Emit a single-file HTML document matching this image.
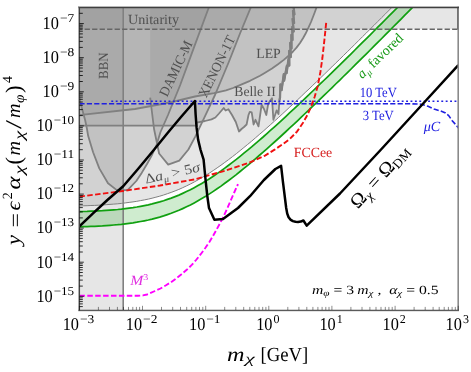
<!DOCTYPE html><html><head><meta charset="utf-8"><style>html,body{margin:0;padding:0;background:#fff}svg{display:block;will-change:transform;text-rendering:geometricPrecision}</style></head><body><svg width="471" height="372" viewBox="0 0 471 372"><rect width="471" height="372" fill="#fff"/><defs><clipPath id="c"><rect x="79.4" y="7.0" width="378.9" height="303.0"/></clipPath></defs><g clip-path="url(#c)"><path d="M79.4,206.0 L83.2,205.8 L87.1,205.7 L90.9,205.5 L94.7,205.4 L98.5,205.2 L102.4,205.0 L106.2,204.7 L110.0,204.4 L113.8,204.1 L117.7,203.8 L121.5,203.4 L125.3,202.9 L129.1,202.4 L133.0,201.9 L136.8,201.3 L140.6,200.6 L144.4,199.9 L148.3,199.1 L152.1,198.2 L155.9,197.2 L159.7,196.2 L163.6,195.0 L167.4,193.7 L171.2,192.4 L175.1,190.9 L178.9,189.4 L182.7,187.7 L186.5,185.9 L190.4,184.0 L194.2,182.0 L198.0,179.9 L201.8,177.7 L205.7,175.4 L209.5,173.0 L213.3,170.5 L217.1,167.9 L221.0,165.2 L224.8,162.4 L228.6,159.6 L232.4,156.7 L236.3,153.7 L240.1,150.6 L243.9,147.5 L247.7,144.4 L251.6,141.2 L255.4,137.9 L259.2,134.6 L263.1,131.3 L266.9,127.9 L270.7,124.5 L274.5,121.1 L278.4,117.6 L282.2,114.1 L286.0,110.6 L289.8,107.0 L293.7,103.5 L297.5,99.9 L301.3,96.3 L305.1,92.6 L309.0,89.0 L312.8,85.3 L316.6,81.7 L320.4,78.0 L324.3,74.3 L328.1,70.6 L331.9,66.9 L335.7,63.1 L339.6,59.4 L343.4,55.6 L347.2,51.9 L351.1,48.1 L354.9,44.3 L358.7,40.5 L362.5,36.7 L366.4,32.9 L370.2,29.1 L374.0,25.3 L377.8,21.5 L381.7,17.6 L385.5,13.8 L389.3,10.0 L393.1,6.1 L397.0,2.3 L400.8,-1.6 L404.6,-5.5 L408.4,-9.3 L412.3,-13.2 L412.3,-23.0 L79.4,-23.0Z" fill="#808080" fill-opacity="0.2"/><rect x="79.4" y="7.0" width="378.9" height="22.2" fill="#808080" fill-opacity="0.2"/><rect x="79.4" y="7.0" width="43.8" height="303.0" fill="#808080" fill-opacity="0.2"/><path d="M79.0,115.2 L135.0,109.0 L170.0,102.5 L195.0,96.5 L214.0,93.2 L226.0,90.3 L233.0,88.0 L241.7,84.4 L250.0,80.8 L260.0,75.7 L265.1,72.7 L272.0,68.6 L278.0,64.3 L283.8,59.9 L289.5,55.0 L293.0,51.5 L296.5,47.6 L300.0,43.0 L303.0,38.3 L305.5,33.8 L308.0,28.6 L311.0,22.0 L314.5,13.0 L316.7,7.0 L318.0,-3.0 L318.0,-23.0 L79.0,-23.0Z" fill="#808080" fill-opacity="0.2"/><path d="M79.0,125.7 L196.5,125.7 L196.5,122.6 L205.0,121.0 L211.5,119.4 L215.4,117.5 L219.0,113.5 L223.7,108.0 L225.6,110.5 L228.4,109.2 L232.0,115.0 L235.8,122.0 L237.5,127.0 L239.0,131.5 L241.5,129.0 L244.0,127.0 L246.6,124.5 L248.5,115.0 L249.8,111.8 L251.7,112.4 L253.6,124.5 L255.5,119.8 L258.5,126.4 L260.0,116.0 L261.6,104.8 L264.0,109.0 L266.3,115.0 L268.2,103.8 L270.0,101.0 L272.0,98.2 L273.4,119.8 L276.7,110.4 L278.5,114.0 L279.5,100.0 L280.0,97.7 L280.4,84.5 L281.6,90.1 L283.8,74.1 L284.1,80.7 L286.9,65.6 L286.6,73.2 L288.5,59.0 L289.3,65.5 L289.2,51.0 L290.8,57.0 L290.2,43.0 L291.5,48.5 L291.4,35.0 L292.5,40.0 L292.3,27.0 L293.7,31.5 L292.6,19.0 L294.1,23.0 L293.0,11.0 L294.4,14.5 L293.3,4.0 L294.9,-3.0 L294.9,-23.0 L79.0,-23.0Z" fill="#808080" fill-opacity="0.2"/><path d="M79.0,96.0 L80.8,104.0 L83.2,113.0 L85.1,120.0 L86.8,128.0 L88.2,136.1 L93.1,152.3 L99.3,168.4 L108.0,183.3 L116.8,190.1 L127.6,190.1 L136.3,181.0 L141.7,172.9 L147.0,164.0 L151.8,155.4 L156.5,145.0 L160.5,132.0 L168.0,115.0 L180.2,85.0 L195.0,44.6 L209.0,7.0 L212.0,-3.0 L212.0,-23.0 L79.0,-23.0Z" fill="#808080" fill-opacity="0.2"/><path d="M150.2,97.7 L151.2,106.0 L154.1,129.3 L159.1,153.5 L168.2,164.6 L179.3,160.6 L188.4,149.5 L195.4,136.4 L205.5,115.2 L215.0,95.0 L229.0,61.5 L240.0,33.5 L251.0,7.0 L255.0,-3.0 L255.0,-23.0 L150.2,-23.0Z" fill="#808080" fill-opacity="0.2"/><path d="M79.4,211.7 L83.2,211.5 L87.1,211.4 L90.9,211.2 L94.7,211.1 L98.5,210.9 L102.4,210.7 L106.2,210.4 L110.0,210.1 L113.8,209.8 L117.7,209.5 L121.5,209.1 L125.3,208.6 L129.1,208.1 L133.0,207.6 L136.8,207.0 L140.6,206.3 L144.4,205.6 L148.3,204.8 L152.1,203.9 L155.9,202.9 L159.7,201.9 L163.6,200.7 L167.4,199.4 L171.2,198.1 L175.1,196.6 L178.9,195.1 L182.7,193.4 L186.5,191.6 L190.4,189.7 L194.2,187.7 L198.0,185.6 L201.8,183.4 L205.7,181.1 L209.5,178.7 L213.3,176.2 L217.1,173.6 L221.0,170.9 L224.8,168.1 L228.6,165.3 L232.4,162.4 L236.3,159.4 L240.1,156.3 L243.9,153.2 L247.7,150.1 L251.6,146.9 L255.4,143.6 L259.2,140.3 L263.1,137.0 L266.9,133.6 L270.7,130.2 L274.5,126.8 L278.4,123.3 L282.2,119.8 L286.0,116.3 L289.8,112.7 L293.7,109.2 L297.5,105.6 L301.3,102.0 L305.1,98.3 L309.0,94.7 L312.8,91.0 L316.6,87.4 L320.4,83.7 L324.3,80.0 L328.1,76.3 L331.9,72.6 L335.7,68.8 L339.6,65.1 L343.4,61.3 L347.2,57.6 L351.1,53.8 L354.9,50.0 L358.7,46.2 L362.5,42.4 L366.4,38.6 L370.2,34.8 L374.0,31.0 L377.8,27.2 L381.7,23.3 L385.5,19.5 L389.3,15.7 L393.1,11.8 L397.0,8.0 L400.8,4.1 L404.6,0.2 L408.4,-3.6 L412.3,-7.5 L416.1,-11.4 L419.9,-15.3 L435.2,-15.6 L431.4,-11.7 L427.6,-7.8 L423.7,-3.9 L419.9,-0.1 L416.1,3.8 L412.3,7.7 L408.4,11.6 L404.6,15.4 L400.8,19.3 L397.0,23.2 L393.1,27.0 L389.3,30.9 L385.5,34.7 L381.7,38.5 L377.8,42.4 L374.0,46.2 L370.2,50.0 L366.4,53.8 L362.5,57.6 L358.7,61.4 L354.9,65.2 L351.1,69.0 L347.2,72.8 L343.4,76.5 L339.6,80.3 L335.7,84.0 L331.9,87.8 L328.1,91.5 L324.3,95.2 L320.4,98.9 L316.6,102.6 L312.8,106.2 L309.0,109.9 L305.1,113.5 L301.3,117.2 L297.5,120.8 L293.7,124.4 L289.8,127.9 L286.0,131.5 L282.2,135.0 L278.4,138.5 L274.5,142.0 L270.7,145.4 L266.9,148.8 L263.1,152.2 L259.2,155.5 L255.4,158.8 L251.6,162.1 L247.7,165.3 L243.9,168.4 L240.1,171.5 L236.3,174.6 L232.4,177.6 L228.6,180.5 L224.8,183.3 L221.0,186.1 L217.1,188.8 L213.3,191.4 L209.5,193.9 L205.7,196.3 L201.8,198.6 L198.0,200.8 L194.2,202.9 L190.4,204.9 L186.5,206.8 L182.7,208.6 L178.9,210.3 L175.1,211.8 L171.2,213.3 L167.4,214.6 L163.6,215.9 L159.7,217.1 L155.9,218.1 L152.1,219.1 L148.3,220.0 L144.4,220.8 L140.6,221.5 L136.8,222.2 L133.0,222.8 L129.1,223.3 L125.3,223.8 L121.5,224.3 L117.7,224.7 L113.8,225.0 L110.0,225.3 L106.2,225.6 L102.4,225.9 L98.5,226.1 L94.7,226.3 L90.9,226.4 L87.1,226.6 L83.2,226.7 L79.4,226.9Z" fill="#10a010" fill-opacity="0.2"/><path d="M79.4,206.0 L83.2,205.8 L87.1,205.7 L90.9,205.5 L94.7,205.4 L98.5,205.2 L102.4,205.0 L106.2,204.7 L110.0,204.4 L113.8,204.1 L117.7,203.8 L121.5,203.4 L125.3,202.9 L129.1,202.4 L133.0,201.9 L136.8,201.3 L140.6,200.6 L144.4,199.9 L148.3,199.1 L152.1,198.2 L155.9,197.2 L159.7,196.2 L163.6,195.0 L167.4,193.7 L171.2,192.4 L175.1,190.9 L178.9,189.4 L182.7,187.7 L186.5,185.9 L190.4,184.0 L194.2,182.0 L198.0,179.9 L201.8,177.7 L205.7,175.4 L209.5,173.0 L213.3,170.5 L217.1,167.9 L221.0,165.2 L224.8,162.4 L228.6,159.6 L232.4,156.7 L236.3,153.7 L240.1,150.6 L243.9,147.5 L247.7,144.4 L251.6,141.2 L255.4,137.9 L259.2,134.6 L263.1,131.3 L266.9,127.9 L270.7,124.5 L274.5,121.1 L278.4,117.6 L282.2,114.1 L286.0,110.6 L289.8,107.0 L293.7,103.5 L297.5,99.9 L301.3,96.3 L305.1,92.6 L309.0,89.0 L312.8,85.3 L316.6,81.7 L320.4,78.0 L324.3,74.3 L328.1,70.6 L331.9,66.9 L335.7,63.1 L339.6,59.4 L343.4,55.6 L347.2,51.9 L351.1,48.1 L354.9,44.3 L358.7,40.5 L362.5,36.7 L366.4,32.9 L370.2,29.1 L374.0,25.3 L377.8,21.5 L381.7,17.6 L385.5,13.8 L389.3,10.0 L393.1,6.1 L397.0,2.3 L400.8,-1.6 L404.6,-5.5 L408.4,-9.3 L412.3,-13.2" stroke="#808080" fill="none" stroke-width="1.0"/><path d="M79.0,115.2 L135.0,109.0 L170.0,102.5 L195.0,96.5 L214.0,93.2 L226.0,90.3 L233.0,88.0 L241.7,84.4 L250.0,80.8 L260.0,75.7 L265.1,72.7 L272.0,68.6 L278.0,64.3 L283.8,59.9 L289.5,55.0 L293.0,51.5 L296.5,47.6 L300.0,43.0 L303.0,38.3 L305.5,33.8 L308.0,28.6 L311.0,22.0 L314.5,13.0 L316.7,7.0 L318.0,-3.0" stroke="#808080" fill="none" stroke-width="1.8" stroke-linejoin="round"/><path d="M79.0,125.7 L196.5,125.7 L196.5,122.6 L205.0,121.0 L211.5,119.4 L215.4,117.5 L219.0,113.5 L223.7,108.0 L225.6,110.5 L228.4,109.2 L232.0,115.0 L235.8,122.0 L237.5,127.0 L239.0,131.5 L241.5,129.0 L244.0,127.0 L246.6,124.5 L248.5,115.0 L249.8,111.8 L251.7,112.4 L253.6,124.5 L255.5,119.8 L258.5,126.4 L260.0,116.0 L261.6,104.8 L264.0,109.0 L266.3,115.0 L268.2,103.8 L270.0,101.0 L272.0,98.2 L273.4,119.8 L276.7,110.4 L278.5,114.0 L279.5,100.0 L280.0,97.7 L280.4,84.5 L281.6,90.1 L283.8,74.1 L284.1,80.7 L286.9,65.6 L286.6,73.2 L288.5,59.0 L289.3,65.5 L289.2,51.0 L290.8,57.0 L290.2,43.0 L291.5,48.5 L291.4,35.0 L292.5,40.0 L292.3,27.0 L293.7,31.5 L292.6,19.0 L294.1,23.0 L293.0,11.0 L294.4,14.5 L293.3,4.0 L294.9,-3.0" stroke="#808080" fill="none" stroke-width="1.8" stroke-linejoin="round"/><path d="M79.0,96.0 L80.8,104.0 L83.2,113.0 L85.1,120.0 L86.8,128.0 L88.2,136.1 L93.1,152.3 L99.3,168.4 L108.0,183.3 L116.8,190.1 L127.6,190.1 L136.3,181.0 L141.7,172.9 L147.0,164.0 L151.8,155.4 L156.5,145.0 L160.5,132.0 L168.0,115.0 L180.2,85.0 L195.0,44.6 L209.0,7.0 L212.0,-3.0" stroke="#808080" fill="none" stroke-width="1.8" stroke-linejoin="round"/><path d="M150.2,97.7 L151.2,106.0 L154.1,129.3 L159.1,153.5 L168.2,164.6 L179.3,160.6 L188.4,149.5 L195.4,136.4 L205.5,115.2 L215.0,95.0 L229.0,61.5 L240.0,33.5 L251.0,7.0 L255.0,-3.0" stroke="#808080" fill="none" stroke-width="1.8" stroke-linejoin="round"/><path d="M279.5,100.0 L280.0,97.7 L280.4,84.5 L281.6,90.1 L283.8,74.1 L284.1,80.7 L286.9,65.6 L286.6,73.2 L288.5,59.0 L289.3,65.5 L289.2,51.0 L290.8,57.0 L290.2,43.0 L291.5,48.5 L291.4,35.0 L292.5,40.0 L292.3,27.0 L293.7,31.5 L292.6,19.0 L294.1,23.0 L293.0,11.0 L294.4,14.5 L293.3,4.0 L294.9,-3.0" stroke="#808080" fill="none" stroke-width="2.3" stroke-linejoin="round"/><path d="M123.2,7.0 V310.0" stroke="#808080" fill="none" stroke-width="1.6"/><path d="M79.4,29.2 H458.3" stroke="#666" fill="none" stroke-width="1.4" stroke-dasharray="5.3,2.2" stroke-dashoffset="2.3"/><path d="M79.4,211.7 L83.2,211.5 L87.1,211.4 L90.9,211.2 L94.7,211.1 L98.5,210.9 L102.4,210.7 L106.2,210.4 L110.0,210.1 L113.8,209.8 L117.7,209.5 L121.5,209.1 L125.3,208.6 L129.1,208.1 L133.0,207.6 L136.8,207.0 L140.6,206.3 L144.4,205.6 L148.3,204.8 L152.1,203.9 L155.9,202.9 L159.7,201.9 L163.6,200.7 L167.4,199.4 L171.2,198.1 L175.1,196.6 L178.9,195.1 L182.7,193.4 L186.5,191.6 L190.4,189.7 L194.2,187.7 L198.0,185.6 L201.8,183.4 L205.7,181.1 L209.5,178.7 L213.3,176.2 L217.1,173.6 L221.0,170.9 L224.8,168.1 L228.6,165.3 L232.4,162.4 L236.3,159.4 L240.1,156.3 L243.9,153.2 L247.7,150.1 L251.6,146.9 L255.4,143.6 L259.2,140.3 L263.1,137.0 L266.9,133.6 L270.7,130.2 L274.5,126.8 L278.4,123.3 L282.2,119.8 L286.0,116.3 L289.8,112.7 L293.7,109.2 L297.5,105.6 L301.3,102.0 L305.1,98.3 L309.0,94.7 L312.8,91.0 L316.6,87.4 L320.4,83.7 L324.3,80.0 L328.1,76.3 L331.9,72.6 L335.7,68.8 L339.6,65.1 L343.4,61.3 L347.2,57.6 L351.1,53.8 L354.9,50.0 L358.7,46.2 L362.5,42.4 L366.4,38.6 L370.2,34.8 L374.0,31.0 L377.8,27.2 L381.7,23.3 L385.5,19.5 L389.3,15.7 L393.1,11.8 L397.0,8.0 L400.8,4.1 L404.6,0.2 L408.4,-3.6 L412.3,-7.5 L416.1,-11.4 L419.9,-15.3" stroke="#10a010" fill="none" stroke-width="1.7"/><path d="M79.4,226.9 L83.2,226.7 L87.1,226.6 L90.9,226.4 L94.7,226.3 L98.5,226.1 L102.4,225.9 L106.2,225.6 L110.0,225.3 L113.8,225.0 L117.7,224.7 L121.5,224.3 L125.3,223.8 L129.1,223.3 L133.0,222.8 L136.8,222.2 L140.6,221.5 L144.4,220.8 L148.3,220.0 L152.1,219.1 L155.9,218.1 L159.7,217.1 L163.6,215.9 L167.4,214.6 L171.2,213.3 L175.1,211.8 L178.9,210.3 L182.7,208.6 L186.5,206.8 L190.4,204.9 L194.2,202.9 L198.0,200.8 L201.8,198.6 L205.7,196.3 L209.5,193.9 L213.3,191.4 L217.1,188.8 L221.0,186.1 L224.8,183.3 L228.6,180.5 L232.4,177.6 L236.3,174.6 L240.1,171.5 L243.9,168.4 L247.7,165.3 L251.6,162.1 L255.4,158.8 L259.2,155.5 L263.1,152.2 L266.9,148.8 L270.7,145.4 L274.5,142.0 L278.4,138.5 L282.2,135.0 L286.0,131.5 L289.8,127.9 L293.7,124.4 L297.5,120.8 L301.3,117.2 L305.1,113.5 L309.0,109.9 L312.8,106.2 L316.6,102.6 L320.4,98.9 L324.3,95.2 L328.1,91.5 L331.9,87.8 L335.7,84.0 L339.6,80.3 L343.4,76.5 L347.2,72.8 L351.1,69.0 L354.9,65.2 L358.7,61.4 L362.5,57.6 L366.4,53.8 L370.2,50.0 L374.0,46.2 L377.8,42.4 L381.7,38.5 L385.5,34.7 L389.3,30.9 L393.1,27.0 L397.0,23.2 L400.8,19.3 L404.6,15.4 L408.4,11.6 L412.3,7.7 L416.1,3.8 L419.9,-0.1 L423.7,-3.9 L427.6,-7.8 L431.4,-11.7 L435.2,-15.6" stroke="#10a010" fill="none" stroke-width="1.7"/><path d="M79.4,103.7 L408.0,103.7 L421.0,104.2 L428.0,106.3 L434.0,109.0 L440.0,110.8 L445.5,112.9 L449.0,116.0 L452.0,120.4 L456.0,125.0 L460.0,130.0" stroke="#2020e0" fill="none" stroke-width="1.6" stroke-dasharray="5.2,2.2"/><path d="M111.3,101.2 L458.3,101.2" stroke="#2020e0" fill="none" stroke-width="1.45" stroke-dasharray="1.9,2.5"/><path d="M79.4,196.6 L123.0,191.0 L160.0,185.5 L195.0,179.3 L225.0,170.7 L250.0,162.3 L265.0,155.6 L275.0,149.4 L283.0,144.0 L290.0,138.8 L297.0,131.6 L303.0,122.8 L307.5,114.8 L311.0,106.8 L314.6,97.0 L317.8,86.0 L320.4,72.0 L322.4,58.0 L324.4,40.0 L326.3,21.7" stroke="#f01010" fill="none" stroke-width="1.9" stroke-dasharray="5.5,2.4"/><path d="M79.4,295.8 L138.0,295.8 L143.0,295.4 L147.0,294.5 L150.0,293.3 L155.0,291.0 L160.5,288.5 L166.0,285.3 L171.0,282.2 L176.0,278.6 L181.5,274.3 L187.0,269.5 L192.0,264.7 L196.5,259.5 L200.7,254.2 L205.1,248.3 L209.4,242.0 L213.0,236.0 L216.2,230.2 L219.8,223.7 L223.3,217.0 L227.0,209.0 L230.3,201.5 L234.0,193.0 L238.0,184.1" stroke="#ff00ff" fill="none" stroke-width="1.9" stroke-dasharray="5.5,2.4"/><path d="M79.4,226.4 L93.0,213.4 L107.4,200.0 L123.2,186.3 L138.0,169.0 L153.8,150.0 L168.0,132.5 L181.0,117.0 L194.9,101.0 L195.6,114.3 L196.6,127.7 L198.1,139.6 L200.6,150.0 L203.6,159.7 L204.8,172.0 L205.8,182.2 L207.3,196.0 L209.0,208.0 L214.4,219.8 L223.0,219.1 L238.0,208.0 L250.0,196.2 L263.9,180.0 L275.4,169.0 L281.1,165.8 L283.0,182.3 L286.2,208.0 L287.2,213.5 L288.6,217.2 L290.4,219.6 L292.9,221.1 L295.5,221.8 L298.0,222.0 L300.8,221.6 L303.4,220.5 L306.7,225.7 L340.0,193.5 L380.6,150.0 L426.4,100.0 L458.3,65.2" stroke="#000" fill="none" stroke-width="2.5" stroke-linejoin="round"/></g><path d="M458.2,6.3 V310.9" stroke="#8a8a8a" stroke-width="1.6" fill="none"/><path d="M457.7,7.0 V29.5" stroke="#505050" stroke-width="0.8" fill="none"/><path d="M78.3,6.5 H459.0" stroke="#9a9a9a" stroke-width="0.7" fill="none"/><path d="M78.3,7.5 H458.9" stroke="#404040" stroke-width="1.25" fill="none"/><path d="M78.3,310.4 H459.0" stroke="#4c4c4c" stroke-width="1.15" fill="none"/><path d="M78.3,311.2 H459.0" stroke="#b0b0b0" stroke-width="0.5" fill="none"/><path d="M78.7,6.3 V310.9" stroke="#8a8a8a" stroke-width="0.8" fill="none"/><path d="M79.5,7.0 V310.9" stroke="#444" stroke-width="1.1" fill="none"/><path d="M79.4,310.0 v-4.2 M98.4,310.0 v-3.1 M109.5,310.0 v-3.1 M117.4,310.0 v-3.1 M123.5,310.0 v-3.1 M128.5,310.0 v-3.1 M132.8,310.0 v-3.1 M136.4,310.0 v-3.1 M139.6,310.0 v-3.1 M142.5,310.0 v-4.2 M161.5,310.0 v-3.1 M172.7,310.0 v-3.1 M180.5,310.0 v-3.1 M186.7,310.0 v-3.1 M191.7,310.0 v-3.1 M195.9,310.0 v-3.1 M199.5,310.0 v-3.1 M202.8,310.0 v-3.1 M205.7,310.0 v-4.2 M224.7,310.0 v-3.1 M235.8,310.0 v-3.1 M243.7,310.0 v-3.1 M249.8,310.0 v-3.1 M254.8,310.0 v-3.1 M259.0,310.0 v-3.1 M262.7,310.0 v-3.1 M265.9,310.0 v-3.1 M268.8,310.0 v-4.2 M287.8,310.0 v-3.1 M298.9,310.0 v-3.1 M306.8,310.0 v-3.1 M312.9,310.0 v-3.1 M317.9,310.0 v-3.1 M322.1,310.0 v-3.1 M325.8,310.0 v-3.1 M329.0,310.0 v-3.1 M331.9,310.0 v-4.2 M350.9,310.0 v-3.1 M362.0,310.0 v-3.1 M369.9,310.0 v-3.1 M376.0,310.0 v-3.1 M381.0,310.0 v-3.1 M385.3,310.0 v-3.1 M388.9,310.0 v-3.1 M392.2,310.0 v-3.1 M395.1,310.0 v-4.2 M414.1,310.0 v-3.1 M425.2,310.0 v-3.1 M433.1,310.0 v-3.1 M439.2,310.0 v-3.1 M444.2,310.0 v-3.1 M448.4,310.0 v-3.1 M452.1,310.0 v-3.1 M455.3,310.0 v-3.1 M458.2,310.0 v-4.2" stroke="#000" stroke-opacity="0.5" stroke-width="0.9" fill="none"/><path d="M79.4,306.6 h3.4 M79.4,303.9 h3.4 M79.4,301.6 h3.4 M79.4,299.6 h3.4 M79.4,297.9 h3.4 M79.4,296.3 h4.4 M79.4,286.1 h3.4 M79.4,280.1 h3.4 M79.4,275.8 h3.4 M79.4,272.5 h3.4 M79.4,269.8 h3.4 M79.4,267.5 h3.4 M79.4,265.5 h3.4 M79.4,263.8 h3.4 M79.4,262.2 h4.4 M79.4,252.0 h3.4 M79.4,246.0 h3.4 M79.4,241.7 h3.4 M79.4,238.4 h3.4 M79.4,235.7 h3.4 M79.4,233.4 h3.4 M79.4,231.4 h3.4 M79.4,229.7 h3.4 M79.4,228.1 h4.4 M79.4,217.9 h3.4 M79.4,211.9 h3.4 M79.4,207.6 h3.4 M79.4,204.3 h3.4 M79.4,201.6 h3.4 M79.4,199.3 h3.4 M79.4,197.4 h3.4 M79.4,195.6 h3.4 M79.4,194.1 h4.4 M79.4,183.8 h3.4 M79.4,177.8 h3.4 M79.4,173.5 h3.4 M79.4,170.2 h3.4 M79.4,167.5 h3.4 M79.4,165.2 h3.4 M79.4,163.3 h3.4 M79.4,161.5 h3.4 M79.4,160.0 h4.4 M79.4,149.7 h3.4 M79.4,143.7 h3.4 M79.4,139.4 h3.4 M79.4,136.1 h3.4 M79.4,133.4 h3.4 M79.4,131.2 h3.4 M79.4,129.2 h3.4 M79.4,127.4 h3.4 M79.4,125.9 h4.4 M79.4,115.6 h3.4 M79.4,109.6 h3.4 M79.4,105.3 h3.4 M79.4,102.0 h3.4 M79.4,99.3 h3.4 M79.4,97.1 h3.4 M79.4,95.1 h3.4 M79.4,93.3 h3.4 M79.4,91.8 h4.4 M79.4,81.5 h3.4 M79.4,75.5 h3.4 M79.4,71.3 h3.4 M79.4,68.0 h3.4 M79.4,65.3 h3.4 M79.4,63.0 h3.4 M79.4,61.0 h3.4 M79.4,59.2 h3.4 M79.4,57.7 h4.4 M79.4,47.4 h3.4 M79.4,41.4 h3.4 M79.4,37.2 h3.4 M79.4,33.9 h3.4 M79.4,31.2 h3.4 M79.4,28.9 h3.4 M79.4,26.9 h3.4 M79.4,25.2 h3.4 M79.4,23.6 h4.4 M79.4,13.3 h3.4" stroke="#000" stroke-opacity="0.8" stroke-width="1" fill="none"/><g font-family="'Liberation Serif', serif" fill="#000"><text x="36.4" y="301.6" font-size="18" textLength="16.3" lengthAdjust="spacingAndGlyphs">10</text><text x="53.7" y="294.6" font-size="12" textLength="20.5" lengthAdjust="spacingAndGlyphs">−15</text><text x="36.4" y="267.5" font-size="18" textLength="16.3" lengthAdjust="spacingAndGlyphs">10</text><text x="53.7" y="260.5" font-size="12" textLength="20.5" lengthAdjust="spacingAndGlyphs">−14</text><text x="36.4" y="233.4" font-size="18" textLength="16.3" lengthAdjust="spacingAndGlyphs">10</text><text x="53.7" y="226.4" font-size="12" textLength="20.5" lengthAdjust="spacingAndGlyphs">−13</text><text x="36.4" y="199.4" font-size="18" textLength="16.3" lengthAdjust="spacingAndGlyphs">10</text><text x="53.7" y="192.4" font-size="12" textLength="20.5" lengthAdjust="spacingAndGlyphs">−12</text><text x="36.4" y="165.3" font-size="18" textLength="16.3" lengthAdjust="spacingAndGlyphs">10</text><text x="53.7" y="158.3" font-size="12" textLength="20.5" lengthAdjust="spacingAndGlyphs">−11</text><text x="36.4" y="131.2" font-size="18" textLength="16.3" lengthAdjust="spacingAndGlyphs">10</text><text x="53.7" y="124.2" font-size="12" textLength="20.5" lengthAdjust="spacingAndGlyphs">−10</text><text x="42.6" y="97.1" font-size="18" textLength="16.3" lengthAdjust="spacingAndGlyphs">10</text><text x="59.9" y="90.1" font-size="12" textLength="14.3" lengthAdjust="spacingAndGlyphs">−9</text><text x="42.6" y="63.0" font-size="18" textLength="16.3" lengthAdjust="spacingAndGlyphs">10</text><text x="59.9" y="56.0" font-size="12" textLength="14.3" lengthAdjust="spacingAndGlyphs">−8</text><text x="42.6" y="28.9" font-size="18" textLength="16.3" lengthAdjust="spacingAndGlyphs">10</text><text x="59.9" y="21.9" font-size="12" textLength="14.3" lengthAdjust="spacingAndGlyphs">−7</text><text x="62.7" y="329.9" font-size="18" textLength="16.3" lengthAdjust="spacingAndGlyphs">10</text><text x="80.0" y="322.9" font-size="12" textLength="14.3" lengthAdjust="spacingAndGlyphs">−3</text><text x="125.8" y="329.9" font-size="18" textLength="16.3" lengthAdjust="spacingAndGlyphs">10</text><text x="143.1" y="322.9" font-size="12" textLength="14.3" lengthAdjust="spacingAndGlyphs">−2</text><text x="189.0" y="329.9" font-size="18" textLength="16.3" lengthAdjust="spacingAndGlyphs">10</text><text x="206.3" y="322.9" font-size="12" textLength="14.3" lengthAdjust="spacingAndGlyphs">−1</text><text x="256.2" y="329.9" font-size="18" textLength="16.3" lengthAdjust="spacingAndGlyphs">10</text><text x="273.5" y="322.9" font-size="12" textLength="6.0" lengthAdjust="spacingAndGlyphs">0</text><text x="319.4" y="329.9" font-size="18" textLength="16.3" lengthAdjust="spacingAndGlyphs">10</text><text x="336.7" y="322.9" font-size="12" textLength="6.0" lengthAdjust="spacingAndGlyphs">1</text><text x="382.5" y="329.9" font-size="18" textLength="16.3" lengthAdjust="spacingAndGlyphs">10</text><text x="399.8" y="322.9" font-size="12" textLength="6.0" lengthAdjust="spacingAndGlyphs">2</text><text x="445.6" y="329.9" font-size="18" textLength="16.3" lengthAdjust="spacingAndGlyphs">10</text><text x="462.9" y="322.9" font-size="12" textLength="6.0" lengthAdjust="spacingAndGlyphs">3</text><g transform="translate(0,360.5)"><text x="227.0" y="0.0" font-size="20.0" font-style="italic" textLength="17.5" lengthAdjust="spacingAndGlyphs">m</text><text x="245.3" y="2.8" font-size="13.5" font-style="italic" textLength="9.5" lengthAdjust="spacingAndGlyphs">χ</text><text x="260.5" y="0.0" font-size="20.0" textLength="47.8" lengthAdjust="spacingAndGlyphs">[GeV]</text></g><g transform="translate(20.3,245) rotate(-90)"><text x="0.0" y="0.0" font-size="20.0" font-style="italic" textLength="10.0" lengthAdjust="spacingAndGlyphs">y</text><text x="17.5" y="1.3" font-size="20.0" textLength="14.5" lengthAdjust="spacingAndGlyphs">=</text><text x="34.5" y="0.0" font-size="20.0" font-style="italic" textLength="9.0" lengthAdjust="spacingAndGlyphs">ϵ</text><text x="45.8" y="-8.0" font-size="14.0" textLength="7.0" lengthAdjust="spacingAndGlyphs">2</text><text x="55.5" y="0.0" font-size="20.0" font-style="italic" textLength="13.0" lengthAdjust="spacingAndGlyphs">α</text><text x="70.5" y="4.0" font-size="14.0" font-style="italic" textLength="9.0" lengthAdjust="spacingAndGlyphs">χ</text><text x="80.5" y="0.8" font-size="22.5">(</text><text x="89.5" y="0.0" font-size="19.5" font-style="italic" textLength="14.5" lengthAdjust="spacingAndGlyphs">m</text><text x="105.3" y="4.0" font-size="14.0" font-style="italic" textLength="9.0" lengthAdjust="spacingAndGlyphs">χ</text><text x="116.0" y="0.8" font-size="22.5" textLength="9.0" lengthAdjust="spacingAndGlyphs">/</text><text x="127.0" y="0.0" font-size="19.5" font-style="italic" textLength="14.5" lengthAdjust="spacingAndGlyphs">m</text><text x="142.0" y="4.0" font-size="14.0" font-style="italic" textLength="8.5" lengthAdjust="spacingAndGlyphs">φ</text><text x="152.0" y="0.8" font-size="22.5">)</text><text x="162.0" y="-8.0" font-size="14.0" textLength="7.0" lengthAdjust="spacingAndGlyphs">4</text></g><text transform="translate(153.5,23.5) rotate(0.0)" text-anchor="middle" font-size="14.0" textLength="51.0" lengthAdjust="spacingAndGlyphs" fill="#505050">Unitarity</text><text transform="translate(108.2,65.7) rotate(-90.0)" text-anchor="middle" font-size="14.0" textLength="26.5" lengthAdjust="spacingAndGlyphs" fill="#505050">BBN</text><text transform="translate(180.0,70.5) rotate(-64.5)" text-anchor="middle" font-size="14.0" textLength="60.0" lengthAdjust="spacingAndGlyphs" fill="#505050">DAMIC-M</text><text transform="translate(221.0,68.5) rotate(-64.0)" text-anchor="middle" font-size="14.0" textLength="67.0" lengthAdjust="spacingAndGlyphs" fill="#505050">XENON-1T</text><text transform="translate(268.5,57.5) rotate(0.0)" text-anchor="middle" font-size="14.0" textLength="24.5" lengthAdjust="spacingAndGlyphs" fill="#505050">LEP</text><text transform="translate(255.0,95.5) rotate(0.0)" text-anchor="middle" font-size="14.0" textLength="41.5" lengthAdjust="spacingAndGlyphs" fill="#505050">Belle II</text><text transform="translate(173.3,177.5) rotate(-12.8)" text-anchor="middle" font-size="14.0" textLength="56.0" lengthAdjust="spacingAndGlyphs" fill="#505050">Δ<tspan font-style="italic">a</tspan><tspan font-style="italic" font-size="9" dy="3">μ</tspan><tspan dy="-3"> &gt; 5</tspan><tspan font-style="italic">σ</tspan></text><text transform="translate(383.2,59.2) rotate(-44.0)" text-anchor="middle" font-size="14.0" textLength="58.0" lengthAdjust="spacingAndGlyphs" fill="#189a18"><tspan font-style="italic">a</tspan><tspan font-style="italic" font-size="9" dy="3">μ</tspan><tspan dy="-3"> favored</tspan></text><text transform="translate(378.3,97.0) rotate(0.0)" text-anchor="middle" font-size="14.0" textLength="37.0" lengthAdjust="spacingAndGlyphs" fill="#2020e0">10 TeV</text><text transform="translate(378.3,119.6) rotate(0.0)" text-anchor="middle" font-size="14.0" textLength="31.0" lengthAdjust="spacingAndGlyphs" fill="#2020e0">3 TeV</text><text transform="translate(432.0,130.5) rotate(0.0)" text-anchor="middle" font-size="14.0" textLength="16.5" lengthAdjust="spacingAndGlyphs" fill="#2020e0" font-style="italic">μC</text><text transform="translate(313.0,157.0) rotate(0.0)" text-anchor="middle" font-size="14.0" textLength="38.5" lengthAdjust="spacingAndGlyphs" fill="#d62020">FCCee</text><text transform="translate(139.3,284.7) rotate(0.0)" text-anchor="middle" font-size="14.0" textLength="18.0" lengthAdjust="spacingAndGlyphs" fill="#e030e0" font-style="italic">M<tspan font-size="9" dy="-5" font-style="normal">3</tspan></text><text transform="translate(384.0,180.5) rotate(-48.0)" text-anchor="middle" font-size="19.5" textLength="78.0" lengthAdjust="spacingAndGlyphs" fill="#000">Ω<tspan font-style="italic" font-size="13" dy="3.5">χ</tspan><tspan dy="-3.5"> = Ω</tspan><tspan font-size="13" dy="3">DM</tspan></text><text transform="translate(375.3,293.7) rotate(0.0)" text-anchor="middle" font-size="12.5" textLength="126.5" lengthAdjust="spacingAndGlyphs" fill="#000"><tspan font-style="italic">m</tspan><tspan font-style="italic" font-size="9" dy="2.5">φ</tspan><tspan dy="-2.5"> = 3 </tspan><tspan font-style="italic">m</tspan><tspan font-style="italic" font-size="9" dy="2.5">χ</tspan><tspan dy="-2.5"> , </tspan><tspan font-style="italic">α</tspan><tspan font-style="italic" font-size="9" dy="2.5">χ</tspan><tspan dy="-2.5"> = 0.5</tspan></text></g></svg></body></html>
